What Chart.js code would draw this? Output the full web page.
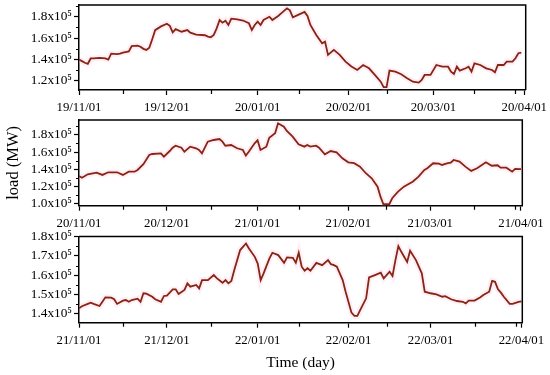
<!DOCTYPE html>
<html><head><meta charset="utf-8">
<script src="https://cdn.jsdelivr.net/npm/chart.js@4"></script>
<style>
html,body{margin:0;padding:0;background:#fff;}
#wrap{position:relative;width:550px;height:375px;overflow:hidden;}
#wrap canvas{position:absolute;left:0;top:0;}
</style></head><body>
<div id="wrap">
<canvas id="c1" width="550" height="375"></canvas>
<canvas id="c2" width="550" height="375"></canvas>
<canvas id="c3" width="550" height="375"></canvas>
</div>
<script>
// ---- data (days since 1 Nov; load in units of 10^5 MW) ----
const days2019 = [0,1,2,3,4,5,7,9,10,11,13,14,15,17,18,20,21,22,23,24,25,26,28,30,31,32,33,35,37,38,40,43,44,45,46,47,48,49,50,51,52,54,56,58,59,60,61,62,63,65,66,68,69,71,72,73,75,77,78,79,81,83,84,85,87,89,91,93,95,97,99,101,103,104,105,106,108,110,112,114,116,117,118,120,122,124,126,127,128,129,130,132,133,134,135,137,139,141,142,143,145,146,148,149,150,151];
const load2019 = [1.40,1.385,1.37,1.36,1.41,1.41,1.415,1.41,1.40,1.455,1.45,1.455,1.465,1.475,1.525,1.53,1.52,1.50,1.49,1.51,1.59,1.675,1.71,1.735,1.715,1.655,1.685,1.66,1.676,1.651,1.632,1.627,1.614,1.608,1.63,1.692,1.77,1.745,1.763,1.723,1.782,1.775,1.765,1.739,1.676,1.723,1.754,1.723,1.77,1.80,1.77,1.807,1.832,1.879,1.86,1.795,1.82,1.845,1.807,1.723,1.63,1.552,1.567,1.443,1.49,1.443,1.38,1.335,1.302,1.349,1.318,1.256,1.193,1.141,1.141,1.296,1.287,1.262,1.225,1.193,1.184,1.209,1.256,1.256,1.349,1.333,1.333,1.287,1.265,1.333,1.296,1.318,1.333,1.287,1.365,1.349,1.318,1.302,1.281,1.349,1.349,1.38,1.38,1.412,1.459,1.464];

const days2020 = [0,1,3,6,8,10,13,15,17,19,20,22,24,25,28,29,31,32,33,35,36,38,40,41,42,44,46,48,49,50,52,54,56,57,58,60,61,62,64,65,67,68,70,71,73,75,77,78,79,81,82,84,86,88,90,92,94,96,98,100,102,103,104,106,107,109,111,112,114,116,118,119,121,123,124,126,127,128,130,132,134,136,139,141,143,144,146,148,149,151];
const load2020 = [1.32,1.30,1.34,1.359,1.332,1.363,1.363,1.332,1.37,1.37,1.39,1.457,1.566,1.577,1.585,1.546,1.612,1.651,1.674,1.651,1.604,1.663,1.644,1.624,1.585,1.721,1.741,1.752,1.721,1.674,1.682,1.644,1.624,1.558,1.604,1.702,1.737,1.624,1.663,1.768,1.819,1.936,1.897,1.846,1.78,1.691,1.663,1.682,1.663,1.674,1.651,1.574,1.612,1.597,1.527,1.48,1.469,1.429,1.352,1.293,1.195,1.078,0.989,0.989,1.059,1.136,1.195,1.215,1.253,1.312,1.39,1.41,1.469,1.465,1.449,1.469,1.475,1.507,1.488,1.429,1.379,1.41,1.48,1.44,1.445,1.417,1.417,1.37,1.402,1.40];

const days2021 = [0,1,3,4,5,7,8,9,11,12,13,15,16,17,18,20,21,22,23,25,26,28,29,30,32,33,34,36,37,38,40,41,42,44,46,47,49,50,51,52,53,55,57,58,60,61,62,63,65,66,68,70,71,73,74,75,76,77,78,79,81,83,85,86,87,88,90,91,93,94,95,96,98,99,101,103,104,106,107,108,109,110,112,113,115,117,118,120,122,124,125,127,129,131,132,133,135,137,138,140,141,142,143,144,145,147,148,150,151];
const load2021 = [1.429,1.44,1.452,1.458,1.452,1.441,1.463,1.486,1.484,1.476,1.452,1.469,1.472,1.463,1.472,1.479,1.463,1.507,1.505,1.489,1.476,1.463,1.493,1.495,1.527,1.527,1.503,1.524,1.558,1.541,1.55,1.532,1.575,1.575,1.601,1.585,1.561,1.575,1.558,1.57,1.627,1.73,1.764,1.738,1.695,1.66,1.575,1.61,1.687,1.716,1.704,1.664,1.692,1.69,1.664,1.716,1.644,1.623,1.636,1.623,1.664,1.652,1.678,1.657,1.652,1.644,1.575,1.515,1.407,1.39,1.39,1.421,1.481,1.589,1.601,1.613,1.584,1.618,1.596,1.678,1.75,1.721,1.669,1.726,1.678,1.61,1.515,1.507,1.501,1.489,1.492,1.476,1.467,1.463,1.455,1.469,1.469,1.486,1.498,1.515,1.571,1.566,1.527,1.51,1.489,1.452,1.452,1.463,1.465];

// ---- tick definitions ----
const xTickDays1 = [0,30,61,92,121,152];
const xTickLabels1 = ['19/11/01','19/12/01','20/01/01','20/02/01','20/03/01','20/04/01'];
const xTickDays2 = [0,30,61,92,120,151];
const xTickLabels2 = ['20/11/01','20/12/01','21/01/01','21/02/01','21/03/01','21/04/01'];
const xTickDays3 = [0,30,61,92,120,151];
const xTickLabels3 = ['21/11/01','21/12/01','22/01/01','22/02/01','22/03/01','22/04/01'];
const xMinorDays = [15,45,75,105,135,149];
const yTicks1 = [1.2,1.4,1.6,1.8], yMinor1 = [1.3,1.5,1.7,1.9];
const yTicks2 = [1.0,1.2,1.4,1.6,1.8], yMinor2 = [1.1,1.3,1.5,1.7,1.9];
const yTicks3 = [1.4,1.5,1.6,1.7,1.8], yMinor3 = [1.45,1.55,1.65,1.75];

const FONT = "'Liberation Serif','Times New Roman','DejaVu Serif',serif";
const LINE = '#862611';
const GLOW = 'rgba(255,170,215,0.2)';
const YW = 74;

function framePlugin(o){
  return {
    id:'frame',
    afterDraw(chart){
      const {ctx, chartArea:a, scales:{x,y}} = chart;
      ctx.save();
      ctx.strokeStyle='#000';
      ctx.lineWidth=1.5;
      ctx.beginPath();
      ctx.moveTo(a.left,a.top); ctx.lineTo(a.right,a.top); ctx.lineTo(a.right,a.bottom);
      ctx.stroke();
      ctx.lineWidth=1.2;
      ctx.beginPath();
      o.xMinor.forEach(v=>{ if(v<x.min||v>x.max) return; const p=Math.round(x.getPixelForValue(v))+0.5; ctx.moveTo(p,a.bottom); ctx.lineTo(p,a.bottom+4); });
      o.yMinor.forEach(v=>{ if(v<y.min||v>y.max) return; const p=Math.round(y.getPixelForValue(v))+0.5; ctx.moveTo(a.left,p); ctx.lineTo(a.left-3,p); });
      ctx.stroke();
      ctx.restore();
    }
  };
}

function makePanel(id, days, load, o){
  const pts = days.map((d,i)=>({x:d,y:load[i]}));
  return new Chart(document.getElementById(id), {
    type:'line',
    data:{datasets:[
      {data:pts, borderColor:LINE, borderWidth:1.8, pointRadius:0, tension:0, fill:false, order:0},
      {data:pts, borderColor:GLOW, borderWidth:6, pointRadius:0, tension:0, fill:false, order:1}
    ]},
    options:{
      responsive:false, animation:false, devicePixelRatio:1,
      layout:{padding:{left:o.left-YW, top:o.top, right:550-o.right, bottom:375-o.bottom-o.xh}},
      plugins:{legend:{display:false}, tooltip:{enabled:false}},
      scales:{
        x:{type:'linear', min:0, max:o.xMax, bounds:'data',
          afterBuildTicks:s=>{ s.ticks = o.xTicks.map(v=>({value:v})); },
          afterFit:s=>{ s.height=o.xh; s.paddingLeft=0; s.paddingRight=0; s.paddingTop=0; s.paddingBottom=0; },
          ticks:{autoSkip:false, maxRotation:0, minRotation:0, padding:5, color:'#000',
                 font:{family:FONT,size:12.8}, callback:(v,i)=>o.xLabels[i]},
          grid:{display:true, drawOnChartArea:false, drawTicks:true, tickLength:5, tickColor:'#000', tickWidth:1.2},
          border:{display:true, color:'#000', width:1.5},
          title:o.xTitle ? {display:true, text:o.xTitle, color:'#000', font:{family:FONT,size:15.5,lineHeight:1}, padding:{top:0,bottom:0}} : {display:false}
        },
        y:{type:'linear', min:o.yMin, max:o.yMax, bounds:'data',
          afterBuildTicks:s=>{ s.ticks = o.yTicks.map(v=>({value:v})); },
          afterFit:s=>{ s.width=YW; s.paddingLeft=0; s.paddingRight=0; s.paddingTop=0; s.paddingBottom=0; },
          ticks:{autoSkip:false, padding:2, color:'#000', font:{family:FONT,size:13.3},
                 callback:v=>v.toFixed(1)+'x10\u2075'},
          grid:{display:true, drawOnChartArea:false, drawTicks:true, tickLength:5, tickColor:'#000', tickWidth:1.2},
          border:{display:true, color:'#000', width:1.5},
          title:o.yTitle ? {display:true, text:o.yTitle, color:'#000', font:{family:FONT,size:16.5,lineHeight:1}, padding:{top:0,bottom:0}} : {display:false}
        }
      }
    },
    plugins:[framePlugin(o)]
  });
}

makePanel('c1', days2019, load2019, {
  left:79, right:525.7, top:5, bottom:90, xh:25, xMax:152.5,
  xTicks:xTickDays1, xLabels:xTickLabels1, xMinor:xMinorDays,
  yMin:1.115, yMax:1.91, yTicks:yTicks1, yMinor:yMinor1
});
makePanel('c2', days2020, load2020, {
  left:79, right:522.3, top:120, bottom:205.7, xh:25, xMax:151.45,
  xTicks:xTickDays2, xLabels:xTickLabels2, xMinor:xMinorDays,
  yMin:0.972, yMax:1.975, yTicks:yTicks2, yMinor:yMinor2, yTitle:'load (MW)'
});
makePanel('c3', days2021, load2021, {
  left:79, right:522.3, top:236.5, bottom:322.7, xh:48.3, xMax:151.3,
  xTicks:xTickDays3, xLabels:xTickLabels3, xMinor:xMinorDays,
  yMin:1.355, yMax:1.8, yTicks:yTicks3, yMinor:yMinor3, xTitle:'Time (day)'
});
</script>
</body></html>
